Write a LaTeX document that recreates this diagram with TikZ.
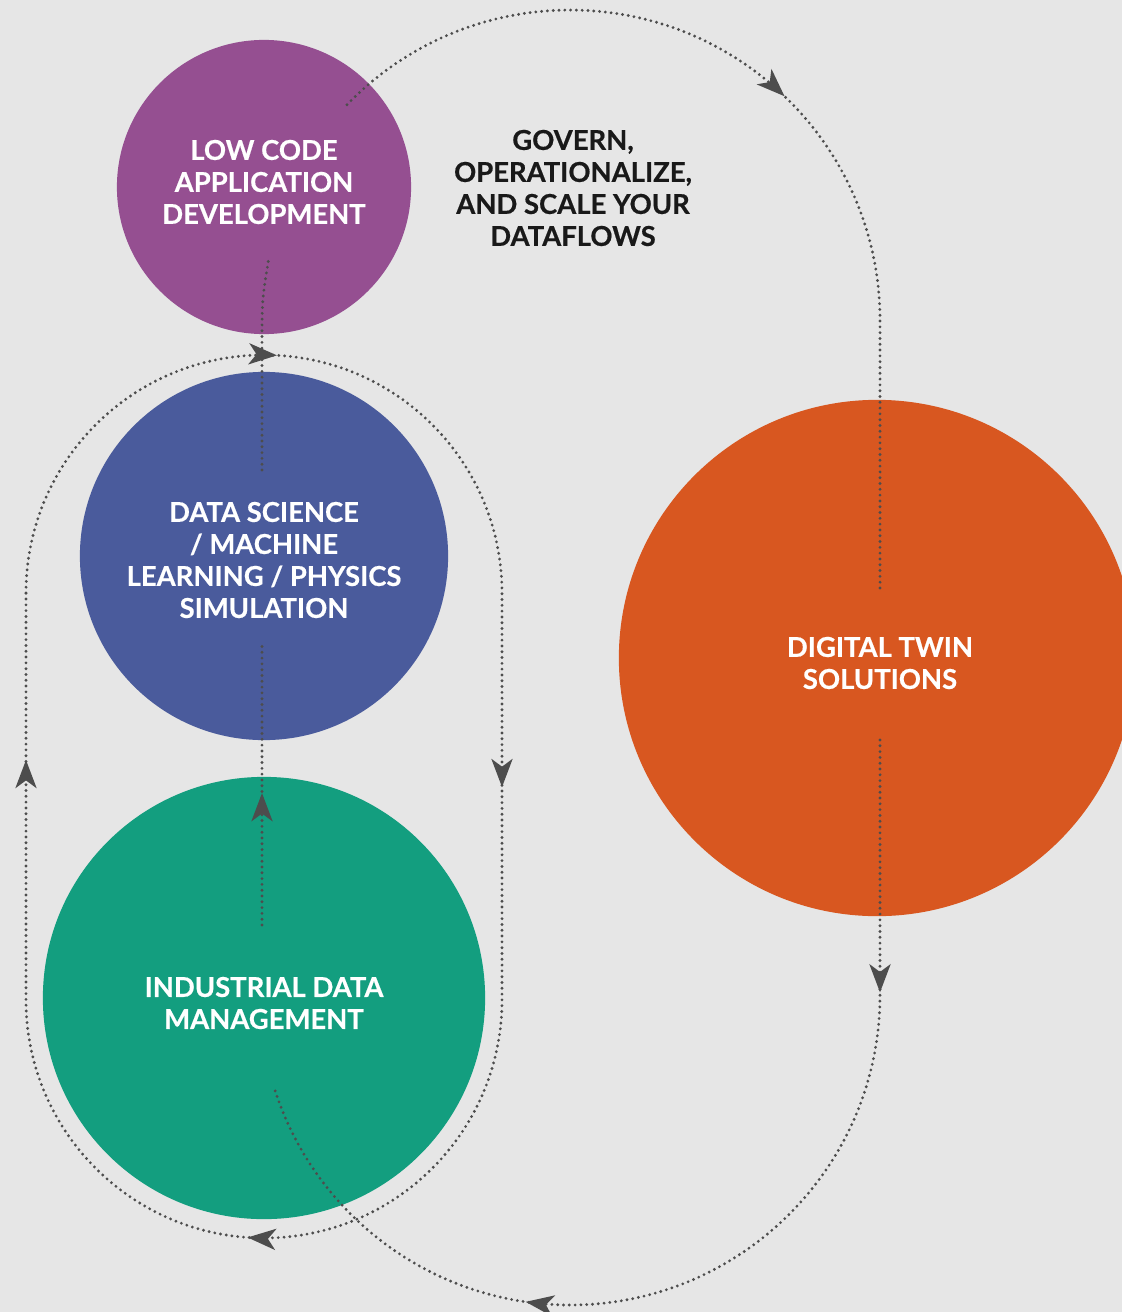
\documentclass[tikz,border=0pt]{standalone}
\usepackage{fontspec}
\setmainfont{Lato}[BoldFeatures={FakeBold=0.5}]
\usetikzlibrary{arrows.meta,decorations.markings}
\definecolor{Mibg}{HTML}{E6E6E6}
\definecolor{Mipurple}{HTML}{954F91}
\definecolor{Miblue}{HTML}{4A5B9C}
\definecolor{Migreen}{HTML}{139E7F}
\definecolor{Miorange}{HTML}{D85720}
\definecolor{Midot}{HTML}{4D4D4D}
\tikzset{
 bubble/.style={circle,inner sep=0pt},
 bubbletext/.style={text=white,align=center,font=\fontsize{7.8}{9.1}\selectfont\bfseries},
 flow/.style={color=Midot,line width=0.9pt,line cap=round,dash pattern=on 0pt off 1.65pt},
 tipat/.style={postaction={decorate,decoration={markings,mark=at position #1 with {\pgfsetdash{}{0pt}\arrow{Stealth[length=8pt,width=6pt,inset=2.2pt]}}}}}
}
\begin{document}
\begin{tikzpicture}[x=0.01cm,y=0.01cm]
\clip (0,0) rectangle (1122,-1312);
\fill[Mibg] (0,0) rectangle (1122,-1312);

\node[bubble,fill=Mipurple,minimum size=2.94cm,label={[bubbletext,yshift=0.05cm]center:LOW CODE\\APPLICATION\\DEVELOPMENT}] (lowcode) at (264,-187) {};
\node[bubble,fill=Miblue,minimum size=3.68cm,label={[bubbletext,yshift=-0.04cm]center:DATA SCIENCE\\/ MACHINE\\LEARNING / PHYSICS\\SIMULATION}] (datasci) at (264,-556) {};
\node[bubble,fill=Migreen,minimum size=4.42cm,label={[bubbletext,yshift=-0.05cm]center:INDUSTRIAL DATA\\MANAGEMENT}] (industrial) at (264,-998) {};
\node[bubble,fill=Miorange,minimum size=5.16cm,label={[bubbletext,xshift=0.03cm,yshift=-0.05cm]center:DIGITAL TWIN\\SOLUTIONS}] (twin) at (877,-658) {};
\node[bubbletext,text=black!90] (govern) at (573,-188) {GOVERN,\\OPERATIONALIZE,\\AND SCALE YOUR\\DATAFLOWS};

\coordinate (lcOut) at (347,-104.7);
\coordinate (lcDown) at (269,-257);
\coordinate (dsUp) at (262,-470);
\coordinate (dsDown) at (262,-645);
\coordinate (idmUp) at (262,-925);
\coordinate (twinIn) at (880,-590);
\coordinate (twinOut) at (880,-740);

\draw[flow,tipat=0.483] (lcOut) arc[start angle=136,end angle=0,radius=310] -- (twinIn);
\draw[flow,tipat=0.223,tipat=0.695] (twinOut) -- (880,-995) arc[start angle=0,end angle=-162,radius=310] coordinate (idmIn);
\draw[flow,tipat=0.1675,tipat=0.4078,tipat=0.669,tipat=0.9277] (26,-593) arc[start angle=180,end angle=0,radius=238] -- (502,-1000) arc[start angle=0,end angle=-180,radius=238] -- cycle;
\draw[flow,tipat=0.471] (idmUp) -- (dsDown);
\draw[flow] (dsUp) -- (262,-345) .. controls (262,-300) .. (lcDown);
\end{tikzpicture}
\end{document}
